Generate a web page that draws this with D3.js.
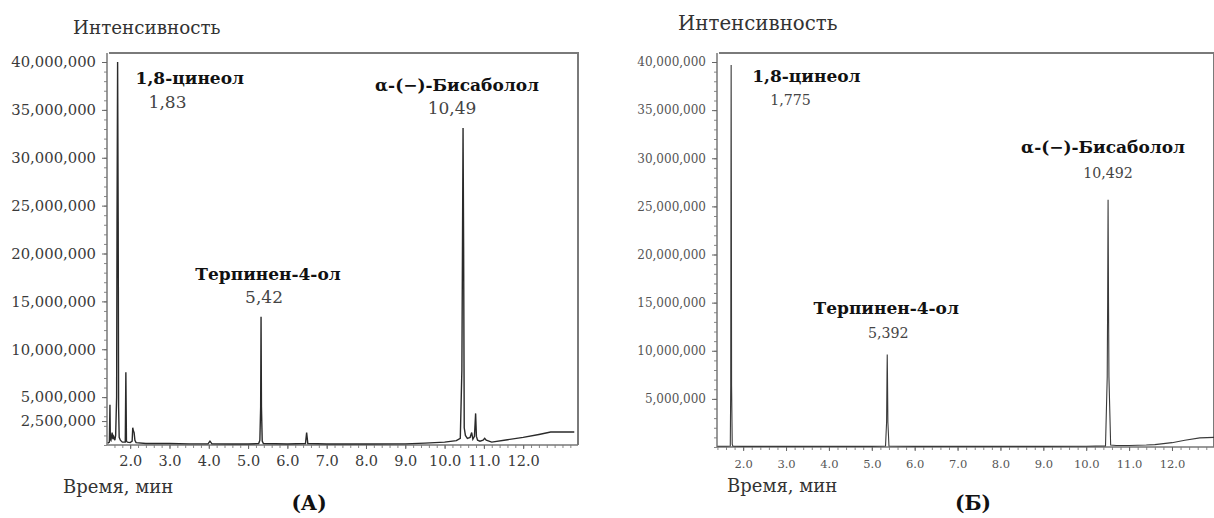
<!DOCTYPE html>
<html>
<head>
<meta charset="utf-8">
<script src="https://cdn.jsdelivr.net/npm/d3@7"></script>
<style>
  html, body { margin: 0; padding: 0; background: #fff; }
</style>
</head>
<body>
<svg id="chart" width="1214" height="518"></svg>
<script>
// ---------------- DATA ----------------
const xTicks = [2, 3, 4, 5, 6, 7, 8, 9, 10, 11, 12];
const yTicksA = [2500000, 5000000, 10000000, 15000000, 20000000, 25000000, 30000000, 35000000, 40000000];
const yTicksB = [5000000, 10000000, 15000000, 20000000, 25000000, 30000000, 35000000, 40000000];

const peakNames = ["1,8-цинеол", "Терпинен-4-ол", "α-(−)-Бисаболол"];
const peakTimesA = [1.68, 5.33, 10.47];
const peakLabelsA = ["1,83", "5,42", "10,49"];
const peakTimesB = [1.72, 5.36, 10.51];
const peakLabelsB = ["1,775", "5,392", "10,492"];

// chromatogram (A): retention time, min / intensity
const timeA = [1.43, 1.47, 1.485, 1.495, 1.51, 1.54, 1.56, 1.58, 1.61, 1.63, 1.655, 1.665, 1.68, 1.695, 1.705, 1.72, 1.75, 1.8, 1.875, 1.89, 1.905, 1.93, 2.0, 2.05, 2.065, 2.08, 2.1, 2.12, 2.15, 2.4, 3.0, 3.5, 3.98, 4.03, 4.08, 4.6, 5.0, 5.27, 5.3, 5.32, 5.33, 5.34, 5.36, 5.39, 6.0, 6.46, 6.49, 6.52, 7.0, 8.0, 9.0, 9.5, 10.0, 10.3, 10.4, 10.44, 10.455, 10.47, 10.485, 10.5, 10.53, 10.58, 10.65, 10.69, 10.72, 10.76, 10.79, 10.81, 10.84, 10.9, 10.98, 11.02, 11.06, 11.2, 11.6, 12.0, 12.4, 12.7, 13.0, 13.3];
const intensityA = [200000, 300000, 4200000, 600000, 500000, 1300000, 600000, 900000, 500000, 1000000, 5000000, 23300000, 40000000, 23300000, 4000000, 800000, 500000, 300000, 300000, 7600000, 400000, 300000, 250000, 400000, 1800000, 1500000, 1300000, 500000, 250000, 150000, 150000, 120000, 120000, 400000, 120000, 100000, 100000, 150000, 500000, 4000000, 13400000, 4000000, 400000, 150000, 100000, 150000, 1300000, 150000, 100000, 100000, 120000, 200000, 300000, 450000, 700000, 7800000, 20200000, 33100000, 20200000, 1800000, 1000000, 700000, 800000, 1300000, 600000, 900000, 3300000, 900000, 500000, 400000, 500000, 700000, 500000, 300000, 550000, 800000, 1100000, 1350000, 1350000, 1350000];

// chromatogram (Б)
const timeB = [1.40, 1.60, 1.70, 1.71, 1.715, 1.72, 1.725, 1.73, 1.745, 1.76, 2.0, 3.0, 4.0, 5.0, 5.32, 5.345, 5.355, 5.36, 5.365, 5.375, 5.4, 6.0, 7.0, 8.0, 9.0, 10.0, 10.45, 10.49, 10.5, 10.51, 10.52, 10.53, 10.57, 10.7, 11.0, 11.4, 11.6, 12.0, 12.3, 12.65, 12.98];
const intensityB = [80000, 80000, 100000, 6400000, 26500000, 39700000, 26500000, 6400000, 300000, 80000, 60000, 60000, 60000, 60000, 100000, 2600000, 7700000, 9600000, 7700000, 2600000, 100000, 60000, 60000, 60000, 60000, 80000, 120000, 7300000, 15300000, 25700000, 15300000, 7300000, 200000, 150000, 150000, 200000, 250000, 450000, 700000, 950000, 1000000];

// ---------------- DRAW ----------------
const FONT = "DejaVu Serif";
const svg = d3.select("#chart");
const fmtY = d3.format(",");
const fmtX = d3.format(".1f");

function drawPanel(cfg) {
  const x = d3.scaleLinear().domain(cfg.xDomain).range([cfg.left, cfg.right]);
  const y = d3.scaleLinear().domain([0, 40000000]).range([cfg.bottom, cfg.y40]);
  const g = svg.append("g").attr("font-family", FONT);

  g.append("path")
    .attr("d", `M${cfg.left + 2},${cfg.top} H${cfg.right} V${cfg.bottom}`)
    .attr("fill", "none").attr("stroke", "#7a7a7a").attr("stroke-width", 2);

  const minorY = d3.range(0, 40000001, 1000000);
  g.append("g").attr("transform", `translate(${cfg.left},0)`)
    .call(d3.axisLeft(y).tickValues(minorY).tickSize(3).tickFormat(""))
    .call(s => s.select(".domain").remove())
    .selectAll("line").attr("stroke", "#888");
  const minorX = d3.range(Math.ceil(cfg.xDomain[0] * 5) / 5, cfg.xDomain[1], 0.2);
  g.append("g").attr("transform", `translate(0,${cfg.bottom})`)
    .call(d3.axisBottom(x).tickValues(minorX).tickSize(3).tickFormat(""))
    .call(s => s.select(".domain").remove())
    .selectAll("line").attr("stroke", "#888");

  const ay = g.append("g").attr("transform", `translate(${cfg.left},0)`)
    .call(d3.axisLeft(y).tickValues(cfg.yTicks).tickFormat(fmtY).tickSize(5).tickPadding(cfg.yPad).tickSizeOuter(0));
  ay.attr("font-family", FONT);
  ay.select(".domain").attr("d", `M0,${cfg.top}V${cfg.bottom}`).attr("stroke", "#777").attr("stroke-width", 1.5);
  ay.selectAll("line").attr("stroke", "#666");
  ay.selectAll("text").attr("font-size", cfg.yFont).attr("fill", cfg.tickColor);

  const ax = g.append("g").attr("transform", `translate(0,${cfg.bottom})`)
    .call(d3.axisBottom(x).tickValues(xTicks).tickFormat(fmtX).tickSize(4).tickPadding(cfg.xPad).tickSizeOuter(0));
  ax.attr("font-family", FONT);
  ax.select(".domain").attr("d", `M${cfg.left},0H${cfg.right}`).attr("stroke", "#777").attr("stroke-width", 1.5);
  ax.selectAll("line").attr("stroke", "#666");
  ax.selectAll("text").attr("font-size", cfg.xFont).attr("fill", cfg.tickColor);

  const pts = cfg.time.map((t, i) => [t, cfg.intensity[i]]);
  const line = d3.line().x(d => x(d[0])).y(d => y(d[1]));
  g.append("path").datum(pts).attr("d", line)
    .attr("fill", "none").attr("stroke", cfg.lineColor).attr("stroke-width", cfg.lineWidth);

  peakNames.forEach((name, i) => {
    const px = x(cfg.peakTimes[i]);
    const L = cfg.labels[i];
    g.append("text").text(name)
      .attr("x", px + L.nx).attr("y", L.ny)
      .attr("text-anchor", L.anchor).attr("dominant-baseline", "central")
      .attr("font-weight", "bold").attr("font-size", 17).attr("fill", "#111");
    g.append("text").text(cfg.peakLabels[i])
      .attr("x", px + L.tx).attr("y", L.ty)
      .attr("text-anchor", L.anchor).attr("dominant-baseline", "central")
      .attr("font-size", cfg.rtFont).attr("fill", "#444");
  });

  g.append("text").text("Интенсивность")
    .attr("x", cfg.yTitle[0]).attr("y", cfg.yTitle[1]).attr("dominant-baseline", "central")
    .attr("font-size", cfg.yTitleFont).attr("fill", "#333");
  g.append("text").text("Время, мин")
    .attr("x", cfg.xTitle[0]).attr("y", cfg.xTitle[1]).attr("dominant-baseline", "central")
    .attr("font-size", 18).attr("fill", "#333");
  g.append("text").text(cfg.panel)
    .attr("x", cfg.panelPos[0]).attr("y", cfg.panelPos[1]).attr("text-anchor", "middle")
    .attr("dominant-baseline", "central").attr("font-weight", "bold").attr("font-size", 20).attr("fill", "#111");
}

drawPanel({
  xDomain: [1.41, 13.395], left: 107, right: 578, top: 53, bottom: 445, y40: 62,
  yTicks: yTicksA, yFont: 14.8, yPad: 6, xFont: 14.5, xPad: 7, tickColor: "#3a3a3a",
  time: timeA, intensity: intensityA, lineColor: "#2a2a2a", lineWidth: 1.4,
  peakTimes: peakTimesA, peakLabels: peakLabelsA, rtFont: 17,
  labels: [
    { anchor: "start", nx: 18, ny: 78, tx: 31, ty: 102 },
    { anchor: "middle", nx: 7, ny: 274, tx: 3, ty: 297 },
    { anchor: "middle", nx: -6, ny: 85, tx: -11, ty: 108 }
  ],
  yTitle: [73, 27], yTitleFont: 18.3, xTitle: [63, 486], panel: "(А)", panelPos: [309, 503]
});

drawPanel({
  xDomain: [1.39, 12.98], left: 717, right: 1214, top: 53, bottom: 447, y40: 62,
  yTicks: yTicksB, yFont: 12, yPad: 6, xFont: 11.5, xPad: 9, tickColor: "#555",
  time: timeB, intensity: intensityB, lineColor: "#3a3a3a", lineWidth: 1.1,
  peakTimes: peakTimesB, peakLabels: peakLabelsB, rtFont: 14.2,
  labels: [
    { anchor: "start", nx: 21, ny: 76, tx: 39, ty: 100 },
    { anchor: "middle", nx: -1, ny: 308, tx: 1, ty: 333 },
    { anchor: "middle", nx: -5, ny: 147, tx: 0, ty: 173 }
  ],
  yTitle: [678, 23], yTitleFont: 19.8, xTitle: [727, 485], panel: "(Б)", panelPos: [973, 503]
});
</script>
</body>
</html>
